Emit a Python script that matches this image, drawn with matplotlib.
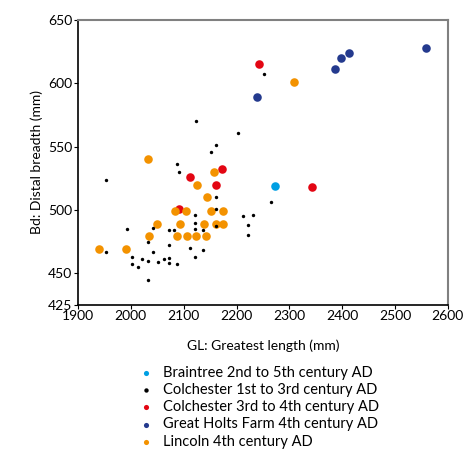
import matplotlib.pyplot as plt

plt.rcParams['font.family'] = ['Lato', 'DejaVu Sans']

# Braintree 2nd to 5th century AD
braintree_gl = [2273]
braintree_bd = [519]

# Colchester 1st to 3rd century AD
col1_gl = [1953, 1953, 1993, 2002, 2002, 2013, 2022, 2032, 2032, 2032, 2042, 2042,
           2052, 2062, 2072, 2082, 2072, 2072, 2072, 2087, 2087, 2092, 2112, 2122,
           2122, 2122, 2122, 2136, 2137, 2152, 2162, 2162, 2162, 2162, 2212, 2222,
           2222, 2231, 2266, 2123, 2202, 2252]
col1_bd = [524, 467, 485, 463, 457, 455, 461, 460, 445, 475, 486, 467,
           459, 461, 484, 484, 472, 462, 458, 457, 536, 530, 470, 496,
           490, 485, 463, 484, 468, 546, 551, 510, 501, 487, 495, 488,
           480, 496, 506, 570, 561, 607]

# Colchester 3rd to 4th century AD
col3_gl = [2112, 2172, 2162, 2092, 2342, 2242]
col3_bd = [526, 532, 520, 501, 518, 615]

# Great Holts Farm 4th century AD
ghf_gl = [2238, 2387, 2397, 2413, 2558]
ghf_bd = [589, 611, 620, 624, 628]

# Lincoln 4th century AD
lin_gl = [2033, 1939, 1990, 2034, 2049, 2084, 2105, 2093, 2088, 2107, 2124, 2143,
          2139, 2145, 2152, 2126, 2158, 2174, 2162, 2175, 2308]
lin_bd = [540, 469, 469, 479, 489, 499, 499, 489, 479, 479, 479, 479,
          489, 510, 499, 520, 530, 499, 489, 489, 601]

fig = plt.figure(figsize=(4.77, 4.55), dpi=100)
ax = fig.add_axes([0.1635, 0.33, 0.7755, 0.626])

big = 38
ax.scatter(braintree_gl, braintree_bd, s=big, color='#009FE3', linewidths=0,
           label='Braintree 2nd to 5th century AD', zorder=3)
ax.scatter(col1_gl, col1_bd, s=6, color='black', linewidths=0,
           label='Colchester 1st to 3rd century AD', zorder=4)
ax.scatter(col3_gl, col3_bd, s=big, color='#E30613', linewidths=0,
           label='Colchester 3rd to 4th century AD', zorder=3)
ax.scatter(ghf_gl, ghf_bd, s=big, color='#243A8E', linewidths=0,
           label='Great Holts Farm 4th century AD', zorder=3)
ax.scatter(lin_gl, lin_bd, s=big, color='#F39200', linewidths=0,
           label='Lincoln 4th century AD', zorder=3)

ax.set_xlim(1900, 2600)
ax.set_ylim(425, 650)
ax.set_xticks(range(1900, 2601, 100))
ax.set_yticks([425, 450, 500, 550, 600, 650])
ax.tick_params(labelsize=10, length=3, pad=1)

ax.spines['top'].set_color('#808080')
ax.spines['right'].set_color('#808080')
ax.spines['top'].set_linewidth(1.5)
ax.spines['right'].set_linewidth(1.5)
ax.spines['left'].set_linewidth(1.2)
ax.spines['bottom'].set_linewidth(1.2)

ax.set_xlabel('GL: Greatest length (mm)', fontsize=10, labelpad=12)
ax.set_ylabel('Bd: Distal breadth (mm)', fontsize=10, labelpad=4)

leg = fig.legend(loc='upper left', bbox_to_anchor=(0.272, 0.212), frameon=False,
                 fontsize=10.5, markerscale=0.6, handletextpad=0.6,
                 labelspacing=0.22, handlelength=1.2, borderpad=0)
leg.legend_handles[1].set_sizes([10])

fig.savefig('out.png', dpi=100)
